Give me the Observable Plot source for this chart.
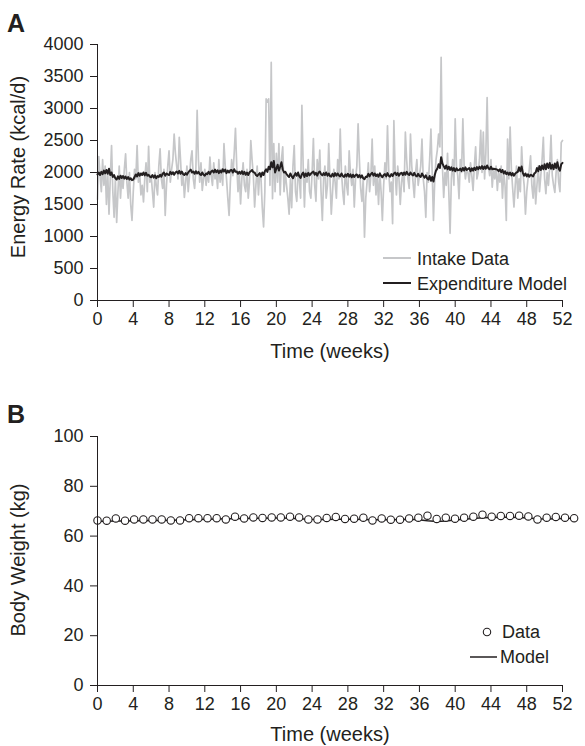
<!DOCTYPE html>
<html><head><meta charset="utf-8">
<script src="https://cdn.jsdelivr.net/npm/d3@7"></script>
<script src="https://cdn.jsdelivr.net/npm/@observablehq/plot@0.6"></script>
<style>
body{margin:0;background:#fff;}
#wrap{position:relative;width:585px;height:746px;overflow:hidden;background:#fff;}
#wrap svg{position:absolute;left:0;}
</style></head><body><div id="wrap"></div>
<script>
const FONT = '"Liberation Sans", Arial, Helvetica, sans-serif';
const INK = "#231f20";

const weekTicks = [0,4,8,12,16,20,24,28,32,36,40,44,48,52];
const energyTicks = [0,500,1000,1500,2000,2500,3000,3500,4000];
const weightTicks = [0,20,40,60,80,100];

// daily energy intake (kcal/d), day 0..364
const intake = [
1580,2250,1950,1700,2200,1800,2100, 1500,2000,1350,1900,2420,1700,1300,
1900,1220,1700,2100,1600,1950,1750, 2050,2290,1850,1600,2000,1500,1250,
1700,2050,1900,2420,1850,2000,1650, 1800,1540,1900,2150,1700,2410,1850,
1950,1700,1460,2000,1800,1650,2100, 2370,1900,1750,2050,1330,1800,2100,
2340,1850,2050,2200,2600,2300,2100, 1900,2550,2200,1800,2000,1610,1850,
2100,1700,1950,2200,2340,1900,1750, 2050,2970,2200,1850,2150,1720,1900,
2050,1800,2000,1850,2240,1950,1800, 2150,1900,2000,1750,2200,1850,2050,
1800,2450,2100,1900,1600,1330,1850, 2200,1950,2300,2690,2100,1700,2000,
1510,1900,2150,1800,1700,2050,1600, 1850,2500,2200,1950,1460,1800,2100,
1650,2000,1900,1450,1150,1700,3150, 3100,3150,1800,3720,1590,2450,1700,
2300,1850,2450,1650,2200,2400,1700, 2000,1800,1600,1350,1900,1450,2100,
2420,1700,1550,2000,1900,1600,3050, 2100,1460,2050,1850,2200,1700,1600,
2000,2530,1800,1550,2200,1900,2350, 1700,1250,1900,2100,1600,1800,2450,
1900,1350,1700,2050,1850,1600,2200, 1900,2680,2000,1700,1500,2100,1800,
1650,2340,2000,1800,2050,1460,1900, 2100,2760,2200,1750,1550,1900,990,
1600,1850,2150,1700,1950,2520,1800, 2100,1650,1950,1500,2000,1700,1250,
1800,2150,1900,2730,2000,1700,1850, 1200,2810,2000,1650,2100,1900,1500,
1850,2000,1700,2630,2200,1900,1750, 2600,2100,1850,1610,2000,2200,1800,
1950,2100,2520,1900,1700,1300,2000, 1850,2200,2680,2000,1250,1900,2200,
2350,2600,2400,3800,2100,1610,2000, 1800,2300,1700,1050,1900,2200,1800,
2840,2100,1950,1590,2200,2000,2840, 2100,1900,2050,2000,1850,2150,1950,
1720,2100,2400,1900,2000,2200,2660, 2000,2630,1900,2300,3170,2100,1950,
2200,1770,2050,1900,2100,1720,2000, 1850,2100,1600,2000,1800,1250,2520,
1900,2710,2050,1750,1460,1800,2100, 1600,1900,1700,2400,2000,1800,1350,
1700,1900,2050,2260,1800,1600,2000, 1510,1800,2100,1700,1950,2200,2550,
1900,1670,2000,1800,2100,2580,1950, 1800,1690,2000,2200,1850,1700,2470,
2500];

// daily expenditure model (kcal/d), day 0..364
const expenditure = [
1970,2000,1960,2010,1975,2030,1985, 2040,1980,2060,1960,2000,1930,1960,
1910,1890,1940,1900,1950,1915,1945, 1905,1935,1900,1930,1890,1910,1880,
1890,1930,1970,1940,1990,1950,1985, 1960,2000,1955,1995,1950,1965,1935,
1925,1960,1920,1955,1910,1945,1930, 1965,1935,1980,2000,1950,1985,1970,
1960,2010,1975,2005,1965,2000,2015, 1985,2025,1980,2015,1975,1960,1990,
1965,2000,2025,2045,2000,2015,1980, 2020,1985,2010,1975,1960,2000,1965,
1950,1985,1975,2010,1975,2015,2030, 2000,2045,2005,2035,1990,2030,2000,
2050,2015,2045,1990,2030,2000,2035, 2040,2000,2050,2010,2015,1980,2010,
1980,2020,1975,2010,1965,2000,1960, 2005,2020,2040,2005,2000,1960,1945,
1970,1990,1935,2000,1960,2020,2050, 2010,2090,2050,2160,2080,2180,2000,
2060,2120,2030,2090,2160,2050,2000, 2010,1975,1950,1930,1985,1940,1910,
1955,1990,1950,2000,1940,1915,1970, 2000,1930,1985,1945,1995,1955,1980,
2000,2015,1965,1995,1950,2000,2015, 1975,1955,1990,1960,2000,1950,1985,
1945,1935,1980,1940,1990,1950,1985, 1955,1940,1985,1945,1930,1970,1940,
1980,1935,1970,1925,1965,1930,1960, 1970,1925,1960,1920,1955,1910,1895,
1935,1930,1980,1940,1975,1995,1950, 1985,1945,1970,1935,1985,1950,1925,
1960,1975,1940,1990,1950,1935,1975, 1945,1985,2000,1960,1990,1950,1985,
1995,1960,2000,1965,2010,1975,1960, 2000,1970,1955,1995,1950,1940,1980,
1945,1930,1985,1950,1920,1955,1910, 1890,1945,1870,1930,1860,1960,2030,
2060,2130,2070,2240,2140,2100,2060, 2110,2050,2090,2040,2080,2030,2070,
2020,2065,2035,2040,2060,2025,2070, 2030,2080,2040,2055,2070,2020,2065,
2030,2075,2040,2085,2050,2090,2060, 2100,2055,2095,2060,2110,2065,2050,
2090,2050,2060,2055,2050,2045,2020, 2050,2005,2040,1985,2020,1975,2000,
1965,2000,1955,1990,1950,1985,2000, 2010,2080,2020,2095,1990,1950,1985,
1940,1970,1935,1965,1955,1940,1985, 2000,2070,2020,2100,2040,2110,2050,
2130,2050,2140,2070,2150,2060,2120, 2050,2140,2070,2160,2060,2030,2130,
2150];

const weightWeeks = [0,1.03,2.05,3.08,4.1,5.13,6.15,7.18,8.2,9.23,10.25,11.28,12.3,13.33,14.35,15.38,16.4,17.43,18.45,19.48,20.5,21.53,22.55,23.58,24.6,25.63,26.65,27.68,28.7,29.73,30.75,31.78,32.8,33.83,34.85,35.88,36.9,37.93,38.95,39.98,41.0,42.03,43.05,44.08,45.1,46.13,47.15,48.18,49.2,50.23,51.25,52.28,53.3];
const weightData = [66.3,66.2,67.1,66.2,66.7,66.7,66.7,66.7,66.3,66.3,67.2,67.2,67.2,67.2,66.7,67.8,67.1,67.5,67.3,67.5,67.5,67.8,67.5,66.7,66.7,67.3,67.7,66.9,67.0,67.4,66.3,67.1,66.6,66.6,67.1,67.4,68.2,66.9,67.4,67.0,67.4,67.8,68.6,67.8,68.1,68.1,68.2,67.9,66.7,67.4,67.7,67.4,67.2];
const weightModel = [66.0,66.0,66.1,66.1,66.2,66.2,66.3,66.3,66.4,66.5,66.6,66.7,66.8,66.9,67.0,67.0,67.1,67.2,67.2,67.3,67.3,67.2,67.0,66.8,66.7,66.7,66.8,66.8,66.8,66.7,66.6,66.6,66.6,66.7,66.8,66.6,66.2,65.9,66.1,66.5,66.8,67.1,67.4,67.5,67.6,67.6,67.5,67.3,67.0,66.9,67.0,67.1,67.2];

const intakeRows = intake.map((v,i)=>({week:i/7, value:v}));
const expRows = expenditure.map((v,i)=>({week:i/7, value:v}));
const wRows = weightData.map((v,i)=>({week:weightWeeks[i], value:v}));
const mRows = weightModel.map((v,i)=>({week:weightWeeks[i], value:v}));

const style = {fontFamily:FONT, fontSize:"18px", color:INK, background:"transparent", overflow:"visible"};

const plotA = Plot.plot({
  width:585, height:370, marginLeft:97, marginRight:23, marginTop:44, marginBottom:70,
  style,
  x:{domain:[0,52]}, y:{domain:[0,4000]},
  marks:[
    Plot.axisX({ticks:weekTicks, tickFormat:"d", tickSize:7, tickPadding:5, label:null, fontSize:18}),
    Plot.axisY({ticks:energyTicks, tickFormat:"d", tickSize:7, tickPadding:7, label:null, fontSize:18}),
    Plot.line(intakeRows,{x:"week", y:"value", stroke:"#c6c7c9", strokeWidth:1.7}),
    Plot.line(expRows,{x:"week", y:"value", stroke:INK, strokeWidth:2}),
    Plot.ruleX([0],{stroke:INK}),
    Plot.ruleY([0],{stroke:INK})
  ]
});
plotA.style.top = "0px";

const plotB = Plot.plot({
  width:585, height:366, marginLeft:97, marginRight:23, marginTop:56, marginBottom:61,
  style,
  x:{domain:[0,52]}, y:{domain:[0,100]},
  marks:[
    Plot.axisX({ticks:weekTicks, tickFormat:"d", tickSize:7, tickPadding:5, label:null, fontSize:18}),
    Plot.axisY({ticks:weightTicks, tickFormat:"d", tickSize:7, tickPadding:7, label:null, fontSize:18}),
    Plot.line(mRows,{x:"week", y:"value", stroke:INK, strokeWidth:1.5}),
    Plot.dot(wRows,{x:"week", y:"value", r:3.7, fill:"white", stroke:INK, strokeWidth:1.1}),
    Plot.ruleX([0],{stroke:INK}),
    Plot.ruleY([0],{stroke:INK})
  ]
});
plotB.style.top = "380px";

const wrap = document.getElementById("wrap");
wrap.appendChild(plotA);
wrap.appendChild(plotB);

// overlay: panel letters, axis titles, legends
const ns = "http://www.w3.org/2000/svg";
const ov = document.createElementNS(ns,"svg");
ov.setAttribute("width",585); ov.setAttribute("height",746);
ov.style.top = "0px";
ov.style.fontFamily = FONT;
function txt(s,x,y,opts={}){
  const t = document.createElementNS(ns,"text");
  t.textContent = s;
  t.setAttribute("x",x); t.setAttribute("y",y);
  t.setAttribute("fill",INK);
  t.setAttribute("font-size",opts.size||18);
  if(opts.weight) t.setAttribute("font-weight",opts.weight);
  if(opts.anchor) t.setAttribute("text-anchor",opts.anchor);
  if(opts.rotate) t.setAttribute("transform",`rotate(-90 ${x} ${y})`);
  ov.appendChild(t);
}
function seg(x1,x2,y,color,w){
  const l = document.createElementNS(ns,"line");
  l.setAttribute("x1",x1); l.setAttribute("x2",x2); l.setAttribute("y1",y); l.setAttribute("y2",y);
  l.setAttribute("stroke",color); l.setAttribute("stroke-width",w);
  ov.appendChild(l);
}
txt("A",7,32,{size:25,weight:"bold"});
txt("B",7,423,{size:25,weight:"bold"});
txt("Time (weeks)",330,358,{size:20,anchor:"middle"});
txt("Time (weeks)",330,741,{size:20,anchor:"middle"});
txt("Energy Rate (kcal/d)",25,167,{size:20,anchor:"middle",rotate:true});
txt("Body Weight (kg)",25,560,{size:20,anchor:"middle",rotate:true});
// legend A
seg(383,411,258,"#c6c7c9",2);
txt("Intake Data",417,264.5);
seg(383,411,283,INK,2);
txt("Expenditure Model",417,290);
// legend B
const c = document.createElementNS(ns,"circle");
c.setAttribute("cx",487); c.setAttribute("cy",632); c.setAttribute("r",3.7);
c.setAttribute("fill","white"); c.setAttribute("stroke",INK); c.setAttribute("stroke-width",1.1);
ov.appendChild(c);
txt("Data",502,638);
seg(470,497,657,INK,1.5);
txt("Model",500,663);
wrap.appendChild(ov);
</script></body></html>
